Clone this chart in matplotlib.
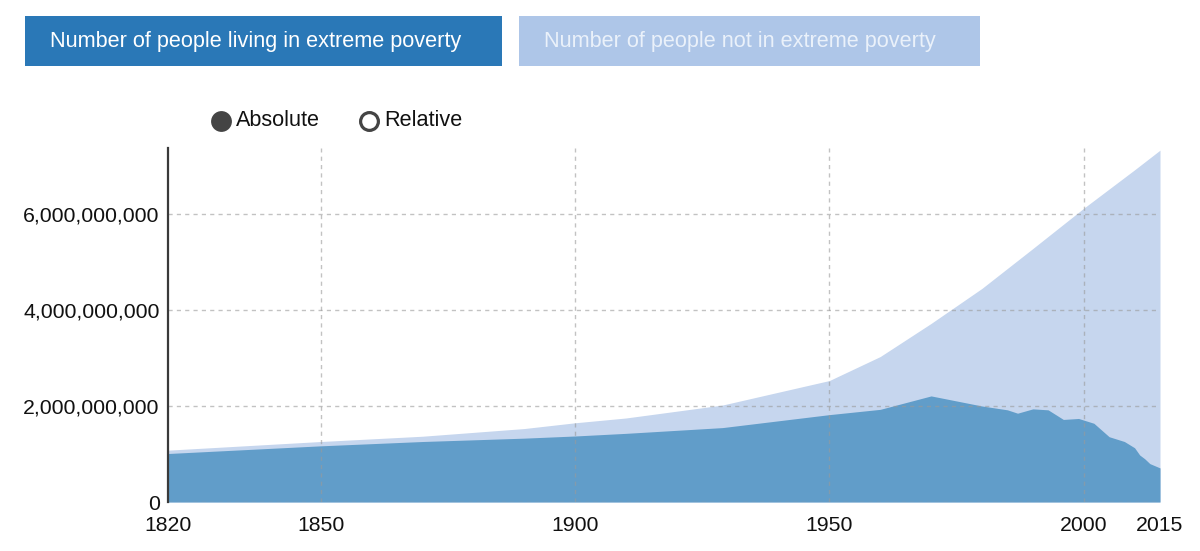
import matplotlib
matplotlib.use("Agg")
import matplotlib.pyplot as plt
from matplotlib.patches import Rectangle
from matplotlib.lines import Line2D
from matplotlib.ticker import FuncFormatter

plt.rcParams['font.family'] = ['Liberation Sans', 'DejaVu Sans']

# world population (total) and people in extreme poverty, in billions
total_years = [1820, 1850, 1870, 1890, 1900, 1910, 1929, 1950, 1960, 1970,
               1980, 1990, 2000, 2010, 2015]
total_pop = [1.08, 1.26, 1.37, 1.53, 1.65, 1.75, 2.02, 2.53, 3.03, 3.72,
             4.45, 5.28, 6.12, 6.92, 7.33]

poverty_years = [1820, 1850, 1870, 1890, 1900, 1910, 1929, 1950, 1960, 1970,
                 1980, 1985, 1987, 1990, 1993, 1996, 1999, 2002, 2005, 2008,
                 2010, 2011, 2012, 2013, 2015]
poverty_pop = [1.01, 1.17, 1.26, 1.33, 1.375, 1.43, 1.55, 1.82, 1.93, 2.21,
               2.00, 1.92, 1.85, 1.94, 1.92, 1.72, 1.74, 1.64, 1.36, 1.26,
               1.13, 0.98, 0.90, 0.80, 0.71]

x_ticks = [1820, 1850, 1900, 1950, 2000, 2015]
x_grid = [1850, 1900, 1950, 2000]
y_ticks = [0, 2e9, 4e9, 6e9]

series_labels = ["Number of people living in extreme poverty",
                 "Number of people not in extreme poverty"]
mode_labels = ["Absolute", "Relative"]

dark_blue = "#2a78b7"
poverty_fill = "#619dc9"
rest_fill = "#c6d6ee"
rest_box = "#aec6e8"

fig = plt.figure(figsize=(12, 5.51), dpi=100)
ax = fig.add_axes([168 / 1200, 1 - 502 / 551, 992 / 1200, 354 / 551])

ax.fill_between(total_years, [v * 1e9 for v in total_pop], 0,
                color=rest_fill, lw=0)
ax.fill_between(poverty_years, [v * 1e9 for v in poverty_pop], 0,
                color=poverty_fill, lw=0)

ax.set_xlim(1820, 2015)
ax.set_ylim(0, 7.375e9)
ax.set_xticks(x_ticks)
ax.set_yticks(y_ticks)
ax.yaxis.set_major_formatter(FuncFormatter(lambda v, p: f"{int(v):,}"))
ax.tick_params(length=0, labelsize=15.3, colors="#111111", pad=6)
ax.tick_params(axis='x', pad=10)

# dashed grid drawn over the areas
grid_kw = dict(color="#9a9a9a", alpha=0.6, linestyle=(0, (3, 3)), lw=1,
               zorder=3)
for yv in y_ticks:
    ax.axhline(yv, **grid_kw)
for xv in x_grid:
    ax.axvline(xv, **grid_kw)

for s in ["top", "right", "bottom"]:
    ax.spines[s].set_visible(False)
ax.spines["left"].set_color("#3a3a3a")
ax.spines["left"].set_linewidth(1.6)
ax.spines["left"].set_zorder(5)

# series selector boxes at the top
boxes = [(25, 502, dark_blue, "white"), (519, 980, rest_box, "#eaf1fa")]
for (x0, x1, fc, tc), label in zip(boxes, series_labels):
    fig.add_artist(Rectangle((x0 / 1200, 1 - 66 / 551), (x1 - x0) / 1200,
                             50 / 551, transform=fig.transFigure,
                             facecolor=fc, edgecolor="none"))
    fig.text((x0 + 25) / 1200, 1 - 41 / 551, label, color=tc,
             fontsize=15.6, va="center", ha="left")

# absolute / relative toggle
fig.add_artist(Line2D([221 / 1200], [1 - 120.5 / 551], marker="o",
                      markersize=15, color="#444444", markeredgewidth=0,
                      transform=fig.transFigure))
fig.add_artist(Line2D([368.5 / 1200], [1 - 120.5 / 551], marker="o",
                      markersize=12.8, markerfacecolor="white",
                      markeredgecolor="#444444", markeredgewidth=2.3,
                      transform=fig.transFigure))
fig.text(236 / 1200, 1 - 120 / 551, mode_labels[0], fontsize=15.6,
         va="center", ha="left", color="#111111")
fig.text(384 / 1200, 1 - 120 / 551, mode_labels[1], fontsize=15.6,
         va="center", ha="left", color="#111111")

fig.savefig("out.png", dpi=100)
